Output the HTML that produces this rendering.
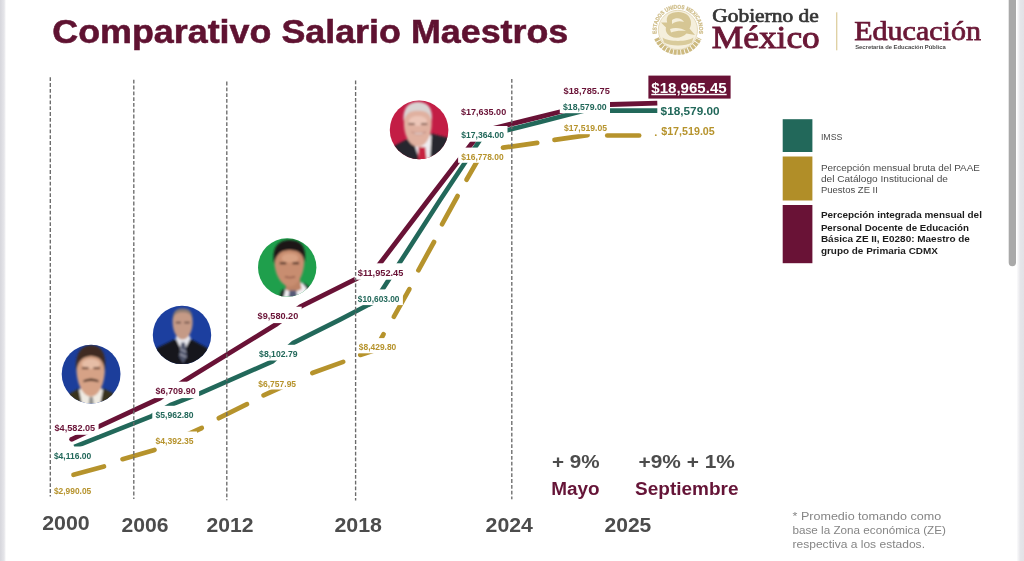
<!DOCTYPE html>
<html lang="es">
<head>
<meta charset="utf-8">
<title>Comparativo Salario Maestros</title>
<style>
html,body{margin:0;padding:0;background:#fff;}
body{width:1024px;height:561px;overflow:hidden;position:relative;font-family:"Liberation Sans",Arial,sans-serif;}
svg text{white-space:pre;}
</style>
</head>
<body>
<svg width="1024" height="561" viewBox="0 0 1024 561" font-family="'Liberation Sans', Arial, sans-serif" style="position:absolute;left:0;top:0;filter:blur(0.45px)">
<defs><linearGradient id="lb" x1="0" x2="1" y1="0" y2="0"><stop offset="0" stop-color="#d6d6dc"/><stop offset="0.7" stop-color="#e6e6ea"/><stop offset="1" stop-color="#ffffff"/></linearGradient><linearGradient id="rb" x1="0" x2="1" y1="0" y2="0"><stop offset="0" stop-color="#ffffff"/><stop offset="0.2" stop-color="#f4f4f6"/><stop offset="0.5" stop-color="#e5e5e9"/><stop offset="1" stop-color="#e2e2e6"/></linearGradient></defs>
<rect width="1024" height="561" fill="#ffffff"/>
<rect x="0" y="0" width="6" height="561" fill="url(#lb)"/>
<rect x="1016.5" y="0" width="7.5" height="561" fill="url(#rb)"/>
<path d="M1008.7 0 H1016 V262.5 a3.65 3.65 0 0 1 -7.3 0 Z" fill="#a9a9a9"/>
<text x="52.3" y="43.4" font-size="32.4" font-weight="700" fill="#5f1231" stroke="#5f1231" stroke-width="0.55" textLength="516" lengthAdjust="spacingAndGlyphs">Comparativo Salario Maestros</text>
<polyline points="71.6,439.3 99.2,426.3 159.8,398.3 184.8,380.5 276.9,323.9 300.4,306.7 355.6,279.1 375.7,269.0 428.3,200.0 471.0,144.5 481.0,131.5 494.6,128.1 540.0,116.8 559.3,112.0 587.5,105.0 610.5,104.5 657.3,103.1" fill="none" stroke="#691236" stroke-width="4.8" stroke-linecap="butt" stroke-linejoin="round"/>
<circle cx="71.6" cy="439.3" r="2.4" fill="#691236"/>
<polyline points="74.3,446.8 151.8,416.1 171.4,404.6 199.9,393.4 272.6,361.3 292.9,343.1 340.0,319.6 368.4,304.8 374.4,302.0 399.5,263.1 440.1,200.0 477.0,144.5 482.3,136.5 508.2,130.0 540.0,121.9 559.3,117.0 584.5,110.6 657.3,110.6" fill="none" stroke="#22685a" stroke-width="4.6" stroke-linecap="butt" stroke-linejoin="round"/>
<line x1="73.5" y1="474.8" x2="104.0" y2="466.5" stroke="#b6932c" stroke-width="4.7" stroke-linecap="round"/>
<line x1="122.5" y1="459.2" x2="154.5" y2="450.0" stroke="#b6932c" stroke-width="4.7" stroke-linecap="round"/>
<line x1="171.0" y1="442.0" x2="201.8" y2="428.0" stroke="#b6932c" stroke-width="4.7" stroke-linecap="round"/>
<line x1="218.8" y1="418.2" x2="247.0" y2="404.2" stroke="#b6932c" stroke-width="4.7" stroke-linecap="round"/>
<line x1="263.5" y1="395.3" x2="294.0" y2="381.5" stroke="#b6932c" stroke-width="4.7" stroke-linecap="round"/>
<line x1="312.3" y1="373.0" x2="343.2" y2="361.9" stroke="#b6932c" stroke-width="4.7" stroke-linecap="round"/>
<polyline points="360.2,354.9 374.7,350.3 383.6,334.2" fill="none" stroke="#b6932c" stroke-width="4.7" stroke-linecap="round" stroke-linejoin="round"/>
<line x1="393.8" y1="316.8" x2="409.4" y2="289.1" stroke="#b6932c" stroke-width="4.7" stroke-linecap="round"/>
<line x1="418.4" y1="270.3" x2="434.0" y2="242.0" stroke="#b6932c" stroke-width="4.7" stroke-linecap="round"/>
<line x1="442.0" y1="224.3" x2="457.6" y2="196.0" stroke="#b6932c" stroke-width="4.7" stroke-linecap="round"/>
<polyline points="466.5,179.7 482.5,152.0 489.0,150.3" fill="none" stroke="#b6932c" stroke-width="4.7" stroke-linecap="round" stroke-linejoin="round"/>
<line x1="554.5" y1="139.9" x2="587.6" y2="135.2" stroke="#b6932c" stroke-width="4.7" stroke-linecap="round"/>
<circle cx="655.8" cy="135.2" r="0.9" fill="#b6932c"/>
<rect x="51.3" y="418.4" width="47.3" height="16.4" fill="#fff"/><text x="54.5" y="430.6" font-size="9.6" font-weight="700" fill="#691236" textLength="40.7" lengthAdjust="spacingAndGlyphs">$4,582.05</text>
<rect x="50.7" y="446.5" width="44.0" height="15.7" fill="#fff"/><text x="53.9" y="458.7" font-size="9.0" font-weight="700" fill="#22685a" textLength="37.4" lengthAdjust="spacingAndGlyphs">$4,116.00</text>
<rect x="50.7" y="481.7" width="44.0" height="15.2" fill="#fff"/><text x="53.9" y="493.9" font-size="8.6" font-weight="700" fill="#b6932c" textLength="37.4" lengthAdjust="spacingAndGlyphs">$2,990.05</text>
<rect x="152.3" y="381.7" width="46.8" height="16.4" fill="#fff"/><text x="155.5" y="393.9" font-size="9.6" font-weight="700" fill="#691236" textLength="40.2" lengthAdjust="spacingAndGlyphs">$6,709.90</text>
<rect x="152.3" y="405.8" width="44.7" height="15.7" fill="#fff"/><text x="155.5" y="418.0" font-size="9.0" font-weight="700" fill="#22685a" textLength="38.1" lengthAdjust="spacingAndGlyphs">$5,962.80</text>
<rect x="152.3" y="431.5" width="44.7" height="15.2" fill="#fff"/><text x="155.5" y="443.7" font-size="8.6" font-weight="700" fill="#b6932c" textLength="38.1" lengthAdjust="spacingAndGlyphs">$4,392.35</text>
<rect x="254.4" y="306.7" width="47.3" height="16.4" fill="#fff"/><text x="257.6" y="318.9" font-size="9.6" font-weight="700" fill="#691236" textLength="40.7" lengthAdjust="spacingAndGlyphs">$9,580.20</text>
<rect x="255.9" y="344.8" width="45.1" height="15.7" fill="#fff"/><text x="259.1" y="357.0" font-size="9.0" font-weight="700" fill="#22685a" textLength="38.5" lengthAdjust="spacingAndGlyphs">$8,102.79</text>
<rect x="255.1" y="374.3" width="44.4" height="15.2" fill="#fff"/><text x="258.3" y="386.5" font-size="8.6" font-weight="700" fill="#b6932c" textLength="37.8" lengthAdjust="spacingAndGlyphs">$6,757.95</text>
<rect x="354.6" y="263.3" width="52.1" height="16.4" fill="#fff"/><text x="357.8" y="275.5" font-size="9.6" font-weight="700" fill="#691236" textLength="45.5" lengthAdjust="spacingAndGlyphs">$11,952.45</text>
<rect x="354.6" y="289.4" width="48.3" height="15.7" fill="#fff"/><text x="357.8" y="301.6" font-size="9.0" font-weight="700" fill="#22685a" textLength="41.7" lengthAdjust="spacingAndGlyphs">$10,603.00</text>
<rect x="355.6" y="338.1" width="44.1" height="15.2" fill="#fff"/><text x="358.8" y="350.3" font-size="8.6" font-weight="700" fill="#b6932c" textLength="37.5" lengthAdjust="spacingAndGlyphs">$8,429.80</text>
<rect x="457.7" y="102.7" width="51.9" height="16.4" fill="#fff"/><text x="460.9" y="114.9" font-size="9.6" font-weight="700" fill="#691236" textLength="45.3" lengthAdjust="spacingAndGlyphs">$17,635.00</text>
<rect x="458.1" y="126.0" width="49.4" height="15.7" fill="#fff"/><text x="461.3" y="138.2" font-size="9.0" font-weight="700" fill="#22685a" textLength="42.8" lengthAdjust="spacingAndGlyphs">$17,364.00</text>
<rect x="458.1" y="147.6" width="48.9" height="15.2" fill="#fff"/><text x="461.3" y="159.8" font-size="8.6" font-weight="700" fill="#b6932c" textLength="42.3" lengthAdjust="spacingAndGlyphs">$16,778.00</text>
<rect x="560.4" y="82.1" width="52.8" height="16.4" fill="#fff"/><text x="563.6" y="94.3" font-size="9.6" font-weight="700" fill="#691236" textLength="46.2" lengthAdjust="spacingAndGlyphs">$18,785.75</text>
<rect x="559.8" y="97.5" width="50.2" height="15.7" fill="#fff"/><text x="563.0" y="109.7" font-size="9.0" font-weight="700" fill="#22685a" textLength="43.6" lengthAdjust="spacingAndGlyphs">$18,579.00</text>
<rect x="560.8" y="119.0" width="49.6" height="15.2" fill="#fff"/><text x="564.0" y="131.2" font-size="8.6" font-weight="700" fill="#b6932c" textLength="43.0" lengthAdjust="spacingAndGlyphs">$17,519.05</text>
<line x1="503.0" y1="147.7" x2="537.2" y2="142.8" stroke="#b6932c" stroke-width="4.7" stroke-linecap="round"/>
<line x1="607.2" y1="135.5" x2="639.2" y2="135.5" stroke="#b6932c" stroke-width="4.6" stroke-linecap="round"/>
<g stroke="#6a6a6a" stroke-width="1.35" stroke-dasharray="3.8 2"><line x1="50.3" y1="77.3" x2="50.3" y2="496.5"/><line x1="133.8" y1="79.8" x2="133.8" y2="499"/><line x1="226.8" y1="81.6" x2="226.8" y2="500.3"/><line x1="355.6" y1="80.5" x2="355.6" y2="500.6"/><line x1="511.8" y1="78.9" x2="511.8" y2="499.2"/></g>
<rect x="648.4" y="75.6" width="82.2" height="23" fill="#691236"/>
<text x="651.3" y="92.8" font-size="14.3" font-weight="700" fill="#ffffff" textLength="75.4" lengthAdjust="spacingAndGlyphs" text-decoration="underline">$18,965.45</text>
<text x="660.6" y="114.8" font-size="11.6" font-weight="700" fill="#22685a" textLength="59" lengthAdjust="spacingAndGlyphs">$18,579.00</text>
<text x="661.2" y="134.6" font-size="10.4" font-weight="700" fill="#b6932c" textLength="53.6" lengthAdjust="spacingAndGlyphs">$17,519.05</text>
<defs><clipPath id="c1"><circle cx="91.1" cy="374.1" r="29.4"/></clipPath><clipPath id="c2"><circle cx="182" cy="334.9" r="29.2"/></clipPath><clipPath id="c3"><circle cx="287.2" cy="267.4" r="29.2"/></clipPath><clipPath id="c4"><circle cx="419.1" cy="129.9" r="29.3"/></clipPath><filter id="bl" x="-20%" y="-20%" width="140%" height="140%"><feGaussianBlur stdDeviation="0.9"/></filter><filter id="bl2" x="-20%" y="-20%" width="140%" height="140%"><feGaussianBlur stdDeviation="0.5"/></filter></defs>
<g clip-path="url(#c1)"><rect x="61" y="344" width="61" height="61" fill="#1c3e9b"/><g filter="url(#bl)"><path d="M64 405 L69 394 L79 388.5 L103 388.5 L113 393 L119 405 Z" fill="#38321f"/><path d="M79 390 L83 386 L99 386 L103 390 L100 405 L82 405 Z" fill="#efebe2"/><path d="M76.6 372 C75.5 352 83 346 91 346 C99.5 346 106 352 104.8 372 C104 386 98 396.5 91 396.5 C84 396.5 77.5 386 76.6 372 Z" fill="#d6a286"/><ellipse cx="91" cy="364" rx="9" ry="5" fill="#e6bda6"/><path d="M76.4 371 C74.5 351 83 345.2 91 345.2 C100 345.2 107 351 105 371 C103.5 361 100 356.5 91 356 C82.5 356.5 78 361 76.4 371 Z" fill="#3f2b20"/><path d="M83.5 380.3 Q91 376.6 98.5 380.3 L98.5 382.2 Q91 379.6 83.5 382.2 Z" fill="#4c3024"/><rect x="82" y="367.3" width="6.5" height="1.8" fill="#5d3b2c"/><rect x="93.5" y="367.3" width="6.5" height="1.8" fill="#5d3b2c"/><path d="M89.5 397 h3.4 l1 8 h-5.4 Z" fill="#8e8e8c"/></g></g>
<g clip-path="url(#c2)"><rect x="152" y="305" width="60" height="60" fill="#1c3f9f"/><g filter="url(#bl)"><path d="M150 366 L156 348.5 L174.5 339.5 L191.5 339.5 L208 348.5 L214 366 Z" fill="#16161d"/><path d="M175.5 338 L183 353.5 L190.8 338 L188 334 L178 334 Z" fill="#e8e8ee"/><path d="M172.6 323 C172.2 311.5 177.5 309 182.6 309 C188 309 193 311.5 192.6 323 C192.3 332 188 339.6 182.6 339.6 C177.5 339.6 172.9 332 172.6 323 Z" fill="#c59a86"/><path d="M172.8 319.5 C172.6 310.3 177.5 308.5 182.6 308.5 C188 308.5 192.6 310.3 192.4 319.5 C191 313.6 188 312.3 182.6 312.3 C177.5 312.3 174.5 313.6 172.8 319.5 Z" fill="#8a7a72"/><rect x="175.8" y="321.8" width="5.2" height="1.5" fill="#5a4138"/><rect x="184.4" y="321.8" width="5.2" height="1.5" fill="#5a4138"/><path d="M181.3 342.5 h3.6 l2.2 14 l-4 7 l-4 -7 Z" fill="#50546c"/><path d="M180.2 349 l6 3 M179.8 354 l6.6 3.2" stroke="#c9c9d6" stroke-width="0.9" fill="none"/></g></g>
<g clip-path="url(#c3)"><rect x="257" y="237" width="61" height="61" fill="#1f9f4c"/><g filter="url(#bl)"><path d="M279 298 L281 291 L287 287 L303 282.5 L309.5 287 L308 298 Z" fill="#223229"/><path d="M283.5 298 L285.5 288.5 L291 284 L302 282.5 L306.8 288.5 L303 298 Z" fill="#f2f1f4"/><path d="M285 279 L300 279 L301.5 289 L294 292.5 L286 290 Z" fill="#bd8366"/><path d="M274.4 263 C273 247 281 241.5 289.5 241.5 C298.5 241.5 305.5 247 304.2 263 C303.5 276 297 286.6 289.8 286.6 C282.5 286.6 275.2 276 274.4 263 Z" fill="#c88d6f"/><ellipse cx="290" cy="258" rx="8.5" ry="4.5" fill="#d8a284"/><path d="M274.2 264 C271 245 281 240 289.5 240 C299.5 240 307.5 245 304.4 263 C303.5 254 299 250 289.5 250 C280.5 250 276 255 274.2 264 Z" fill="#1f1613"/><rect x="279.8" y="262.4" width="6.4" height="1.8" fill="#3a241b"/><rect x="292.6" y="262.4" width="6.4" height="1.8" fill="#3a241b"/><path d="M285 276.6 Q290 278.8 295 276.6" stroke="#8b5346" stroke-width="1.2" fill="none"/><path d="M289.5 290.5 h6.5 l1.8 8 h-9.5 Z" fill="#575a78"/></g></g>
<g clip-path="url(#c4)"><rect x="389" y="100" width="61" height="61" fill="#c31d45"/><g filter="url(#bl)"><path d="M388 162 L392 147 L412 136.5 L431 133.5 L449 138 L450 162 Z" fill="#27252d"/><path d="M412.5 139 L420 161 L430 161 L431.5 136 L427 131 L414 132 Z" fill="#efedf0"/><path d="M404 126 C403 108 410 102.8 418 102.8 C426.5 102.8 432.6 108 431.6 126 C430.8 138 425 146.8 418 146.8 C411 146.8 404.8 138 404 126 Z" fill="#e0b1a0"/><ellipse cx="418" cy="121" rx="9" ry="5" fill="#ecc6b8"/><path d="M403.6 121 C402.5 106.5 410 102 418 102 C426.5 102 433 106.5 432 121 C430 113 426 110.8 418 110.8 C410.5 110.8 406 113 403.6 121 Z" fill="#d9d3d2"/><rect x="408.5" y="123.2" width="6.2" height="1.7" fill="#7d5a50"/><rect x="421" y="123.2" width="6.2" height="1.7" fill="#7d5a50"/><path d="M411.5 132 Q418.5 137.5 426 132 Q418.5 134 411.5 132 Z" fill="#fbf6f4" stroke="#b77f74" stroke-width="0.7"/><path d="M418.6 147 h6.6 l1.6 14 h-8.6 Z" fill="#c7203f"/></g></g>
<g><circle cx="677.9" cy="29.9" r="19.4" fill="#f5efdc"/><circle cx="677.9" cy="29.9" r="19.6" fill="none" stroke="#e2d6b2" stroke-width="0.9"/><path id="sealarc" d="M657.1 34.6 A21.3 21.3 0 1 1 698.7 34.6" fill="none"/><text font-size="5.7" font-weight="700" fill="#cfbd89" stroke="#cfbd89" stroke-width="0.25"><textPath href="#sealarc" startOffset="1" textLength="74" lengthAdjust="spacingAndGlyphs">ESTADOS UNIDOS MEXICANOS</textPath></text><path d="M656.6 38.2 A23.1 23.1 0 0 0 699.2 38.2" fill="none" stroke="#cdba80" stroke-width="5" stroke-dasharray="3 0.8" filter="url(#bl2)"/><g filter="url(#bl2)" fill="#d6c694"><path d="M668.5 15 C673 11 683.5 10.5 688 15.5 C691.5 19.5 692 24.5 689.5 28.5 L695 35 L686.5 33.5 C683 37.5 676 39 671 36.5 C667 34.5 665 31 666 27.5 L661 22.5 L667.2 22.6 C666.3 20 666.8 17 668.5 15 Z"/><path d="M662.5 37.5 C668 42 688 42 693.5 37.5 L692 42.5 C686 46.5 670 46.5 664 42.5 Z" opacity="0.9"/><path d="M672 20 C676 17 682 18 684 22 C680 20.5 676 21 672 24 Z" fill="#f5efdc"/><path d="M670 29 C675 27 682 28 686 31 C681 30.3 675 30.8 671 32.5 Z" fill="#f5efdc"/></g></g>
<g font-family="'Liberation Serif', 'Times New Roman', serif"><text x="712.3" y="21.6" font-size="19" fill="#363636" stroke="#363636" stroke-width="0.7" textLength="106.4" lengthAdjust="spacingAndGlyphs">Gobierno de</text><text x="711.8" y="47.9" font-size="32.6" fill="#6a1836" stroke="#6a1836" stroke-width="0.95" textLength="108" lengthAdjust="spacingAndGlyphs">México</text><text x="854.3" y="40" font-size="27.2" fill="#6a1836" stroke="#6a1836" stroke-width="0.75" textLength="126.6" lengthAdjust="spacingAndGlyphs">Educación</text></g>
<rect x="836.2" y="12.3" width="1.1" height="38" fill="#d8c690"/>
<text x="855.2" y="49.3" font-size="5.6" font-weight="700" fill="#4a4a4a" textLength="90.5" lengthAdjust="spacingAndGlyphs">Secretaría de Educación Pública</text>
<rect x="782.7" y="119.2" width="29.7" height="32.8" fill="#22685a"/>
<rect x="782.7" y="156.5" width="29.7" height="44" fill="#b18e28"/>
<rect x="782.7" y="205" width="29.7" height="58.2" fill="#691236"/>
<g font-size="9.6" fill="#4a4a4a"><text x="820.9" y="139.8" textLength="21.5" lengthAdjust="spacingAndGlyphs">IMSS</text><text x="820.9" y="171" textLength="159" lengthAdjust="spacingAndGlyphs">Percepción mensual bruta del PAAE</text><text x="820.9" y="181.9" textLength="127" lengthAdjust="spacingAndGlyphs">del Catálogo Institucional de</text><text x="820.9" y="192.9" textLength="57" lengthAdjust="spacingAndGlyphs">Puestos ZE II</text></g>
<g font-size="9.6" font-weight="700" fill="#1c1c1c"><text x="820.9" y="218.3" textLength="161" lengthAdjust="spacingAndGlyphs">Percepción integrada mensual del</text><text x="820.9" y="230.6" textLength="148" lengthAdjust="spacingAndGlyphs">Personal Docente de Educación</text><text x="820.9" y="242.3" textLength="149" lengthAdjust="spacingAndGlyphs">Básica ZE II, E0280: Maestro de</text><text x="820.9" y="253.5" textLength="117" lengthAdjust="spacingAndGlyphs">grupo de Primaria CDMX</text></g>
<g font-size="19.6" font-weight="700" fill="#4c4c4c"><text x="42.2" y="529.5" textLength="47.5" lengthAdjust="spacingAndGlyphs">2000</text><text x="121.4" y="532" textLength="47" lengthAdjust="spacingAndGlyphs">2006</text><text x="206.5" y="532" textLength="47" lengthAdjust="spacingAndGlyphs">2012</text><text x="334.4" y="532" textLength="47.6" lengthAdjust="spacingAndGlyphs">2018</text><text x="485.6" y="532" textLength="47.3" lengthAdjust="spacingAndGlyphs">2024</text><text x="604.5" y="532.4" textLength="46.8" lengthAdjust="spacingAndGlyphs">2025</text></g>
<g font-size="18.2" font-weight="700" fill="#4c4c4c"><text x="552.1" y="468.2" textLength="47.6" lengthAdjust="spacingAndGlyphs">+ 9%</text><text x="638.5" y="468.2" textLength="96.3" lengthAdjust="spacingAndGlyphs">+9% + 1%</text></g>
<g font-size="17.6" font-weight="700" fill="#651437"><text x="551.3" y="494.6" textLength="48.4" lengthAdjust="spacingAndGlyphs">Mayo</text><text x="635.1" y="494.6" textLength="103.4" lengthAdjust="spacingAndGlyphs">Septiembre</text></g>
<g font-size="10.8" fill="#858585"><text x="792.5" y="520.3" textLength="148.7" lengthAdjust="spacingAndGlyphs">* Promedio tomando como</text><text x="792.5" y="534.2" textLength="153.4" lengthAdjust="spacingAndGlyphs">base la Zona económica (ZE)</text><text x="792.5" y="548" textLength="132.5" lengthAdjust="spacingAndGlyphs">respectiva a los estados.</text></g>
</svg>
</body>
</html>
